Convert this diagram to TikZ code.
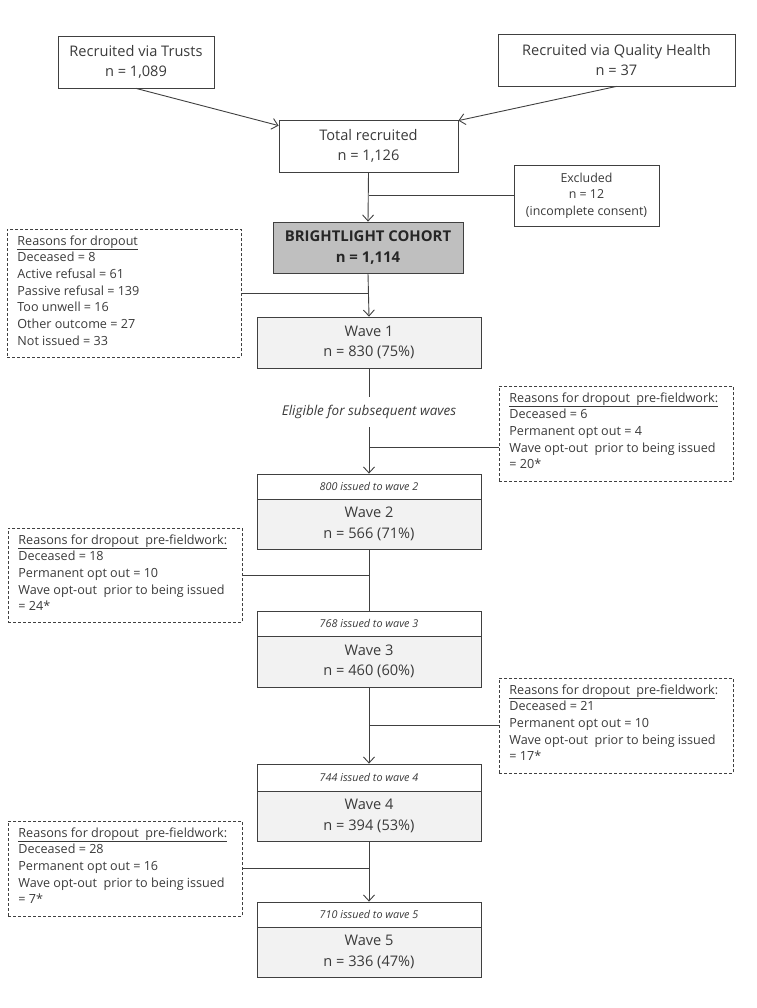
\documentclass[tikz,border=0pt]{standalone}
\usepackage{fontspec}
\setmainfont{Open Sans}
\usetikzlibrary{arrows.meta,calc}
\definecolor{lc}{HTML}{404040}
\definecolor{tc}{HTML}{3A3A3A}
\definecolor{wfill}{HTML}{F2F2F2}
\definecolor{bfill}{HTML}{BFBFBF}
\newcommand{\fsz}[2]{\fontsize{#1}{#2}\selectfont}
\newcommand{\dtext}[2]{\parbox[c][#1][t]{214pt}{\raggedright\fsz{12.6}{16.7}#2}}
\begin{document}
\begin{tikzpicture}[x=1pt,y=-1pt,
  every node/.style={text=tc},
  sbox/.style={draw=lc, line width=0.8pt, inner sep=0pt, align=center, font=\fsz{14.6}{20.5}},
  wbody/.style={sbox, fill=wfill, minimum width=224pt},
  whead/.style={draw=lc, line width=0.8pt, inner sep=0pt, fill=white, minimum width=224pt, font=\fsz{10.8}{12}\itshape},
  dbox/.style={draw=lc, line width=0.8pt, dash pattern=on 3pt off 2pt, inner xsep=10pt, inner ysep=6pt, anchor=north west},
  conn/.style={draw=lc, line width=0.9pt},
  arr/.style={conn, -{Straight Barb[length=6pt,width=11pt]}}
]
\useasboundingbox (0,0) rectangle (756,1008);

% top boxes
\node[sbox, minimum width=156pt, minimum height=52pt] (trusts) at (136,62) {Recruited via Trusts\\n = 1,089};
\node[sbox, minimum width=237pt, minimum height=52pt] (qh) at (616.5,60) {Recruited via Quality Health\\n = 37};
\node[sbox, minimum width=179pt, minimum height=52pt] (total) at (368.5,146) {Total recruited\\n = 1,126};
\node[sbox, minimum width=145pt, minimum height=61pt, font=\fsz{12.4}{16.7}] (excl) at (586.5,195.5) {Excluded\\n = 12\\(incomplete consent)};
\node[sbox, fill=bfill, minimum width=190pt, minimum height=51pt, text=black!85, font=\fsz{14.9}{21}\bfseries] (bright) at (368,247.5) {BRIGHTLIGHT COHORT\\n = 1,114};

% dropout box 1
\node[dbox] (d1) at (7,229) {\dtext{116pt}{\underline{Reasons for dropout}\\Deceased = 8\\Active refusal = 61\\Passive refusal = 139\\Too unwell = 16\\Other outcome = 27\\Not issued = 33}};

% wave 1
\node[wbody, minimum height=51pt] (w1) at (369,342.5) {Wave 1\\n = 830 (75\%)};
\node[inner sep=0pt, minimum height=30pt, font=\fsz{13.5}{15}\itshape] (elig) at (369,412) {Eligible for subsequent waves};

% right dropout 1
\node[dbox] (r1) at (499,386) {\dtext{83pt}{\underline{Reasons for dropout\ \ pre-fieldwork:}\\Deceased = 6\\Permanent opt out = 4\\Wave opt-out\ \ prior to being issued\\= 20*}};

% wave 2
\node[whead, minimum height=25pt] (h2) at (369,486.5) {800 issued to wave 2};
\node[wbody, minimum height=50pt] (w2) at (369,524) {Wave 2\\n = 566 (71\%)};

% left dropout 2
\node[dbox] (l2) at (8,528) {\dtext{82pt}{\underline{Reasons for dropout\ \ pre-fieldwork:}\\Deceased = 18\\Permanent opt out = 10\\Wave opt-out\ \ prior to being issued\\= 24*}};

% wave 3
\node[whead, minimum height=25pt] (h3) at (369,623.5) {768 issued to wave 3};
\node[wbody, minimum height=51pt] (w3) at (369,661.5) {Wave 3\\n = 460 (60\%)};

% right dropout 3
\node[dbox] (r3) at (499,678) {\dtext{83pt}{\underline{Reasons for dropout\ \ pre-fieldwork}:\\Deceased = 21\\Permanent opt out = 10\\Wave opt-out\ \ prior to being issued\\= 17*}};

% wave 4
\node[whead, minimum height=27pt] (h4) at (369,777.5) {744 issued to wave 4};
\node[wbody, minimum height=50pt] (w4) at (369,816) {Wave 4\\n = 394 (53\%)};

% left dropout 4
\node[dbox] (l4) at (8,821) {\dtext{83pt}{\underline{Reasons for dropout\ \ pre-fieldwork:}\\Deceased = 28\\Permanent opt out = 16\\Wave opt-out\ \ prior to being issued\\= 7*}};

% wave 5
\node[whead, minimum height=25pt] (h5) at (369,914.5) {710 issued to wave 5};
\node[wbody, minimum height=50pt] (w5) at (369,952) {Wave 5\\n = 336 (47\%)};

% connectors
\draw[arr] (trusts.south) -- ([yshift=-6pt]total.north west);
\draw[arr] (qh.south) -- ([yshift=-1pt]total.north east);
\draw[arr] (total.south) -- (bright.north);
\draw[conn] (excl.west) -- (excl.west -| total.south);
\draw[arr] (bright.south) -- (w1.north);
\draw[conn] (d1.east) -- (d1.east -| bright.south);
\draw[conn] (w1.south) -- (elig.north);
\draw[arr] (elig.south) -- (h2.north);
\coordinate (c1) at ([yshift=-14pt]r1.west);
\draw[conn] (c1) -- (c1 -| elig.south);
\draw[conn] (w2.south) -- (h3.north);
\draw[conn] (l2.east) -- (l2.east -| w2.south);
\draw[arr] (w3.south) -- (h4.north);
\draw[conn] (r3.west) -- (r3.west -| w3.south);
\draw[arr] (w4.south) -- (h5.north);
\draw[conn] (l4.east) -- (l4.east -| w4.south);
\end{tikzpicture}
\end{document}
